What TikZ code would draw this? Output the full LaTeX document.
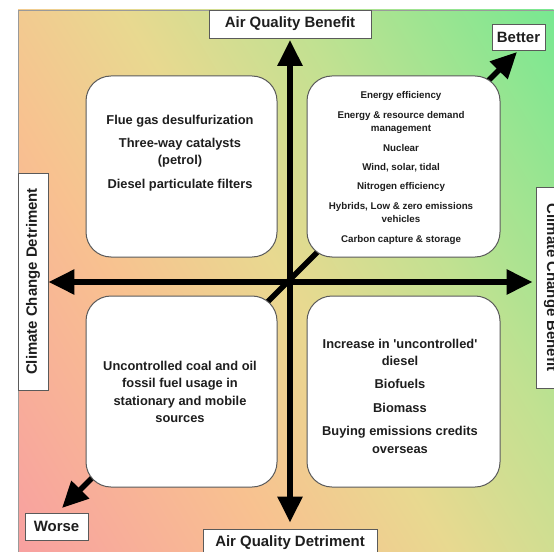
\documentclass[tikz,border=0pt]{standalone}
\usepackage{fontspec}
\setmainfont{Liberation Sans}
\usetikzlibrary{arrows.meta,calc}

\definecolor{frame}{HTML}{5A5A5A}
\definecolor{ink}{HTML}{1E1E1E}
\definecolor{edge}{HTML}{9A9A9A}

% red -> peach -> yellow -> green ramp for the backdrop
\pgfdeclarehorizontalshading{bgramp}{840bp}{%
  rgb(0bp)=(.973,.627,.627);
  rgb(222bp)=(.973,.757,.565);
  rgb(370bp)=(.91,.85,.565);
  rgb(517bp)=(.757,.882,.57);
  rgb(739bp)=(.47,.91,.57)}

\begin{document}
\begin{tikzpicture}[x=1bp,y=-1bp,
  quad/.style={draw=frame, line width=1bp, fill=white, rounded corners=25bp, inner sep=0},
  tagbox/.style={draw=frame, line width=0.8bp, fill=white, inner sep=0, text=ink,
    font=\fontsize{15}{17}\selectfont\bfseries},
  itemtext/.style={align=center, text=ink, inner sep=0,
    font=\fontsize{12.9}{17}\selectfont\bfseries},
  smalltext/.style={align=center, text=ink, inner sep=0,
    font=\fontsize{9.8}{13.5}\selectfont\bfseries},
  twohead/.style={line width=5.5bp,
    {Triangle[length=26bp,width=24bp]}-{Triangle[length=26bp,width=24bp]}},
]
\useasboundingbox (0,0) rectangle (554,552);

% backdrop
\begin{scope}
  \clip (18,10) rectangle (560,560);
  \node[inner sep=0, rotate=31.2] (backdrop) at (286,281) {\pgfuseshading{bgramp}};
\end{scope}
\draw[edge, line width=0.8bp] (18,560) -- (18,10) -- (560,10);

\coordinate (hub) at (290,282);

% axis labels
\node[tagbox, minimum width=162bp, minimum height=28bp] (aqb) at (290,24) {Air Quality Benefit};
\node[tagbox, minimum width=174bp, minimum height=28bp] (aqd) at (290,543) {Air Quality Detriment};
\node[tagbox, rotate=90, minimum width=217bp, minimum height=30bp] (ccd) at (33,281.5) {Climate Change Detriment};
\node[tagbox, rotate=-90, minimum width=201bp, minimum height=30bp] (ccb) at (551,287.5) {Climate Change Benefit};
\node[tagbox, minimum width=53bp, minimum height=26bp] (better) at (518.5,37) {Better};
\node[tagbox, minimum width=63bp, minimum height=27bp] (worse) at (56.5,526.5) {Worse};

% diagonal worse/better arrow, passing under the boxes
\coordinate (worsetip) at (62,508);
\coordinate (bettertip) at (517,52);
\draw[twohead] (worsetip) -- (bettertip);

% quadrant boxes
\node[quad, minimum width=191bp, minimum height=181bp] (tl) at (181.5,166.5) {};
\node[quad, minimum width=193bp, minimum height=181bp] (tr) at (403.5,166.5) {};
\node[quad, minimum width=191bp, minimum height=191bp] (bl) at (181.5,391.5) {};
\node[quad, minimum width=193bp, minimum height=191bp] (br) at (403.5,391.5) {};

% main axes
\draw[twohead, shorten <=6bp, shorten >=1.5bp] (aqd.north) -- (aqb.south);
\draw[twohead, shorten >=3bp] (ccd.south |- hub) -- (ccb.south |- hub);

% quadrant contents
\node[itemtext] (tltext) at (180,153.5)
  {Flue gas desulfurization\\[6bp]
   Three-way catalysts\\
   (petrol)\\[7bp]
   Diesel particulate filters};

\node[smalltext] (trtext) at (401,168)
  {Energy efficiency\\[6bp]
   Energy \& resource demand\\
   management\\[6bp]
   Nuclear\\[6bp]
   Wind, solar, tidal\\[6bp]
   Nitrogen efficiency\\[6bp]
   Hybrids, Low \& zero emissions\\
   vehicles\\[6bp]
   Carbon capture \& storage};

\node[itemtext, font=\fontsize{12.9}{17.5}\selectfont\bfseries] (bltext) at (180,392)
  {Uncontrolled coal and oil\\
   fossil fuel usage in\\
   stationary and mobile\\
   sources};

\node[itemtext, font=\fontsize{12.9}{17.5}\selectfont\bfseries] (brtext) at (400,396)
  {Increase in \textquotesingle uncontrolled\textquotesingle\\
   diesel\\[6bp]
   Biofuels\\[6bp]
   Biomass\\[6bp]
   Buying emissions credits\\
   overseas};
\end{tikzpicture}
\end{document}
